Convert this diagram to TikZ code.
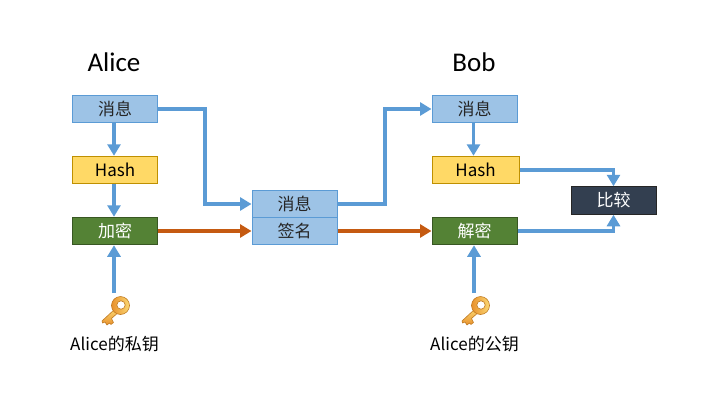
\documentclass[tikz,border=0pt]{standalone}
\usepackage{fontspec}
\setmainfont{Noto Sans CJK SC}
\newfontfamily\titlefont{Carlito}
\usetikzlibrary{arrows.meta,positioning}

\definecolor{msgfill}{HTML}{9DC3E6}
\definecolor{msgline}{HTML}{5B9BD5}
\definecolor{hashfill}{HTML}{FFD966}
\definecolor{hashline}{HTML}{BF9000}
\definecolor{cryptfill}{HTML}{548235}
\definecolor{cryptline}{HTML}{385723}
\definecolor{cmpfill}{HTML}{333F50}
\definecolor{sigline}{HTML}{C55A11}
\definecolor{keylight}{HTML}{FBD873}
\definecolor{keydark}{HTML}{E8912D}
\definecolor{keyline}{HTML}{C07A22}

\tikzset{
  box/.style={draw,line width=1pt,minimum width=85pt,minimum height=27.5pt,inner sep=0pt,font=\fontsize{17}{17}\selectfont},
  msgbox/.style={box,draw=msgline,fill=msgfill,text=black!85},
  hashbox/.style={box,draw=hashline,fill=hashfill,text=black},
  cryptbox/.style={box,draw=cryptline,fill=cryptfill,text=white},
  cmpbox/.style={box,draw=black!85,fill=cmpfill,text=white},
  title/.style={font=\titlefont\fontsize{27}{27}\selectfont},
  keylabel/.style={font=\fontsize{17}{17}\selectfont},
  flow/.style={draw=msgline,line width=3.4pt,-{Triangle[length=11.5pt,width=13pt]}},
  sigflow/.style={flow,draw=sigline,sigline},
  keyicon/.pic={
    \draw[keyline,top color=keylight,bottom color=keydark,line width=.6pt,line join=round]
      (-5,3) -- (-18.5,15.5) -- (-18,17.5) -- (-15.5,16.5) -- (-13.5,19.5) -- (-11,17.5)
      -- (-9.5,19) -- (-7,17) -- (-9,13) -- (0,5) -- cycle;
    \draw[keyline,left color=keydark,right color=keylight,line width=.6pt,even odd rule]
      (0,0) circle (9pt) (.5,-.5) circle (4.2pt);
  },
}

\begin{document}
\begin{tikzpicture}[x=1pt,y=-1pt]
  \useasboundingbox (0,0) rectangle (720,405);

  % Alice
  \node[title] (aliceName) at (114,62) {Alice};
  \node[msgbox] (aliceMsg) at (115,109) {消息};
  \node[hashbox] (aliceHash) at (115,170) {Hash};
  \node[cryptbox] (aliceEnc) at (115,231) {加密};
  \coordinate (aliceKeyTop) at (114,293);
  \pic at (120.5,305.5) {keyicon};
  \node[keylabel] (aliceKey) at (114.5,344) {Alice的私钥};

  % middle
  \node[msgbox] (midMsg) at (294.5,204) {消息};
  \node[msgbox] (midSig) at (294.5,231) {签名};

  % Bob
  \node[title] (bobName) at (474,62) {Bob};
  \node[msgbox] (bobMsg) at (474.5,109) {消息};
  \node[hashbox,minimum width=87pt] (bobHash) at (475.5,170) {Hash};
  \node[cryptbox] (bobDec) at (474.5,231) {解密};
  \coordinate (bobKeyTop) at (474,293);
  \pic at (480.5,305.5) {keyicon};
  \node[keylabel] (bobKey) at (474.5,344) {Alice的公钥};
  \node[cmpbox] (compare) at (613.5,200.5) {比较};

  \coordinate (elbowA) at (205,150);
  \coordinate (elbowB) at (385,150);

  \draw[flow] ([xshift=-1pt]aliceMsg.south) -- ([xshift=-1pt]aliceHash.north);
  \draw[flow] ([xshift=-1pt]aliceHash.south) -- ([xshift=-1pt]aliceEnc.north);
  \draw[flow] (aliceKeyTop) -- (aliceKeyTop |- aliceEnc.south);
  \draw[flow] (aliceMsg.east) -| (elbowA) |- (midMsg.west);
  \draw[sigflow] (aliceEnc) -- (midSig);
  \draw[flow] (midMsg.east) -| (elbowB) |- (bobMsg.west);
  \draw[sigflow] (midSig) -- (bobDec);
  \draw[flow] ([xshift=-1pt]bobMsg.south) -- ([xshift=-1pt]bobMsg.south |- bobHash.north);
  \draw[flow] (bobKeyTop) -- (bobKeyTop |- bobDec.south);
  \draw[flow] (bobHash.east) -| (compare.north);
  \draw[flow] (bobDec.east) -| (compare.south);
\end{tikzpicture}
\end{document}
